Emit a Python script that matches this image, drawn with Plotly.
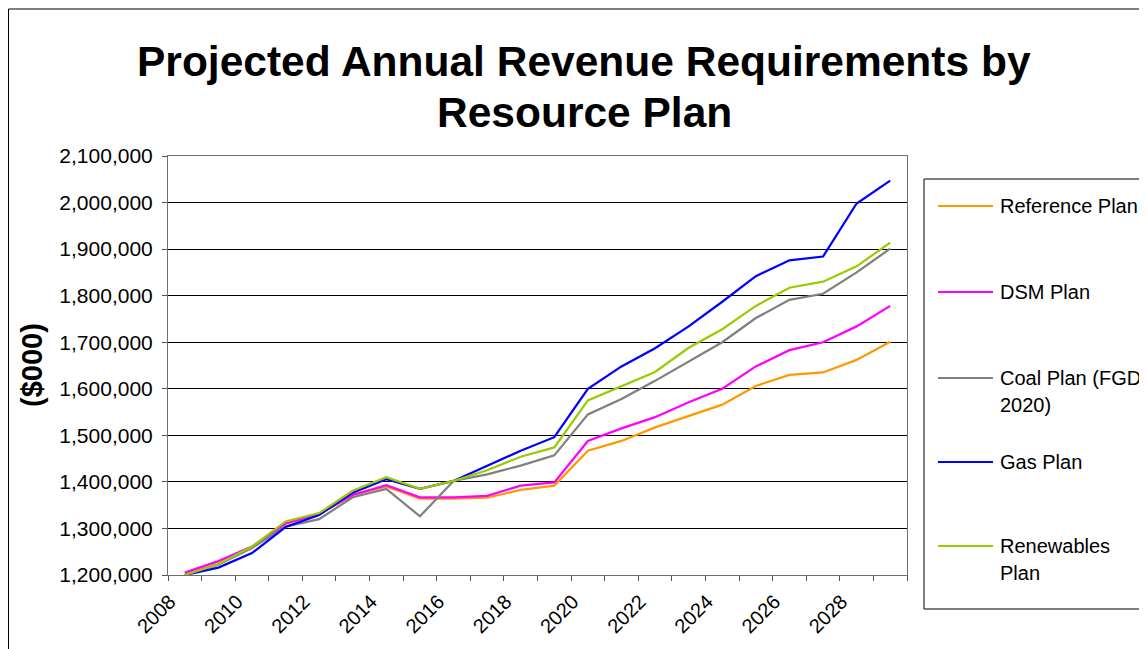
import plotly.graph_objects as go

YEARS = list(range(2008, 2030))
TICK_YEARS = [2008, 2010, 2012, 2014, 2016, 2018, 2020, 2022, 2024, 2026, 2028]
TICK_LABELS = [str(y) for y in TICK_YEARS]
Y_TICKS = [1200000, 1300000, 1400000, 1500000, 1600000, 1700000, 1800000, 1900000, 2000000, 2100000]

REFERENCE = [1203000, 1228000, 1260000, 1310000, 1331000, 1372000, 1390000, 1364000, 1364000, 1366000,
             1383000, 1392000, 1467000, 1488000, 1517000, 1541000, 1566000, 1606000, 1630000, 1635000,
             1662000, 1701000]
DSM = [1205000, 1230000, 1261000, 1311000, 1331000, 1372000, 1393000, 1367000, 1367000, 1370000,
       1392000, 1399000, 1488000, 1515000, 1539000, 1571000, 1600000, 1648000, 1683000, 1700000,
       1734000, 1778000]
COAL = [1200000, 1222000, 1258000, 1304000, 1320000, 1367000, 1385000, 1326000, 1402000, 1416000,
        1435000, 1457000, 1545000, 1578000, 1617000, 1658000, 1700000, 1752000, 1791000, 1804000,
        1850000, 1901000]
GAS = [1200000, 1216000, 1247000, 1303000, 1329000, 1377000, 1406000, 1385000, 1402000, 1435000,
       1467000, 1496000, 1600000, 1648000, 1687000, 1734000, 1787000, 1842000, 1876000, 1884000,
       1998000, 2047000]
RENEWABLES = [1200000, 1223000, 1261000, 1315000, 1333000, 1381000, 1410000, 1385000, 1402000, 1425000,
              1454000, 1474000, 1575000, 1606000, 1636000, 1688000, 1728000, 1778000, 1817000, 1830000,
              1863000, 1914000]

SERIES = [
    ("Reference Plan", REFERENCE, "#FF9900", ["Reference Plan"]),
    ("DSM Plan", DSM, "#FF00FF", ["DSM Plan"]),
    ("Coal Plan (FGD 2020)", COAL, "#808080", ["Coal Plan (FGD", "2020)"]),
    ("Gas Plan", GAS, "#0000FF", ["Gas Plan"]),
    ("Renewables Plan", RENEWABLES, "#99CC00", ["Renewables", "Plan"]),
]

FONT = "Liberation Sans, Arial, sans-serif"

fig = go.Figure()
for name, vals, color, _ in SERIES:
    fig.add_trace(go.Scatter(x=YEARS, y=vals, mode="lines", name=name,
                             line=dict(color=color, width=2.25), showlegend=False))

# page body has an 8px margin; layout numbers below are in screen pixels
OFF = 8
W, H = 1147 - OFF, 649 - OFF
L, R, T, B = 168 - OFF, 907 - OFF, 156 - OFF, 575 - OFF
PW, PH = R - L, B - T

def px(x):
    return (x - OFF - L) / PW

def py(y):
    return (B - (y - OFF)) / PH

shapes = []
annotations = []

# outer frame
shapes.append(dict(type="rect", xref="paper", yref="paper", x0=px(8.5), x1=px(1300), y0=py(9), y1=py(700),
                   line=dict(color="black", width=1), fillcolor="rgba(0,0,0,0)", layer="below"))
# legend box
shapes.append(dict(type="rect", xref="paper", yref="paper", x0=px(924), x1=px(1300), y0=py(179), y1=py(609),
                   line=dict(color="black", width=1), fillcolor="white", layer="above"))

legend_y = [206, 292, 378, 462, 546]
for (name, vals, color, lines), ly in zip(SERIES, legend_y):
    shapes.append(dict(type="line", xref="paper", yref="paper", x0=px(938), x1=px(993), y0=py(ly), y1=py(ly),
                       line=dict(color=color, width=2), layer="above"))
    for i, t in enumerate(lines):
        annotations.append(dict(text=t, xref="paper", yref="paper", x=px(998), y=py(ly + i * 27),
                                xanchor="left", yanchor="middle", showarrow=False,
                                font=dict(family=FONT, size=20, color="black")))

# title lines
annotations.append(dict(text="<b>Projected Annual Revenue Requirements by</b>", xref="paper", yref="paper",
                        x=px(584), y=py(61), xanchor="center", yanchor="middle", showarrow=False,
                        font=dict(family=FONT, size=42.5, color="black")))
annotations.append(dict(text="<b>Resource Plan</b>", xref="paper", yref="paper",
                        x=px(584), y=py(112), xanchor="center", yanchor="middle", showarrow=False,
                        font=dict(family=FONT, size=42.5, color="black")))
# y-axis title
annotations.append(dict(text="<b>($000)</b>", xref="paper", yref="paper", x=px(32), y=py(365),
                        xanchor="center", yanchor="middle", textangle=-90, showarrow=False,
                        font=dict(family=FONT, size=29, color="black")))

minor_vals = [y - 0.5 for y in YEARS] + [YEARS[-1] + 0.5]

fig.update_layout(
    width=W, height=H,
    margin=dict(l=L, r=W - R, t=T, b=H - B, pad=0),
    paper_bgcolor="white", plot_bgcolor="white",
    font=dict(family=FONT, size=20, color="black"),
    showlegend=False,
    shapes=shapes, annotations=annotations,
    xaxis=dict(range=[YEARS[0] - 0.5, YEARS[-1] + 0.5], tickmode="array", tickvals=TICK_YEARS,
               ticktext=TICK_LABELS, tickangle=-45, ticks="", showgrid=False, zeroline=False,
               ticklabelshift=-15, ticklabelstandoff=6,
               showline=True, linecolor="#707070", linewidth=1, mirror=True,
               tickfont=dict(family=FONT, size=20, color="black"),
               minor=dict(tickmode="array", tickvals=minor_vals, ticks="outside", ticklen=5,
                          tickcolor="#505050", showgrid=False)),
    yaxis=dict(range=[Y_TICKS[0], Y_TICKS[-1]], tickmode="array", tickvals=Y_TICKS, tickformat=",",
               ticks="outside", ticklen=5, tickcolor="#505050", showgrid=True, gridcolor="black",
               gridwidth=1, zeroline=False, showline=True, linecolor="#707070", linewidth=1, mirror=True,
               ticklabelstandoff=5,
               tickfont=dict(family=FONT, size=21, color="black")),
)

fig.write_html("out.html")
